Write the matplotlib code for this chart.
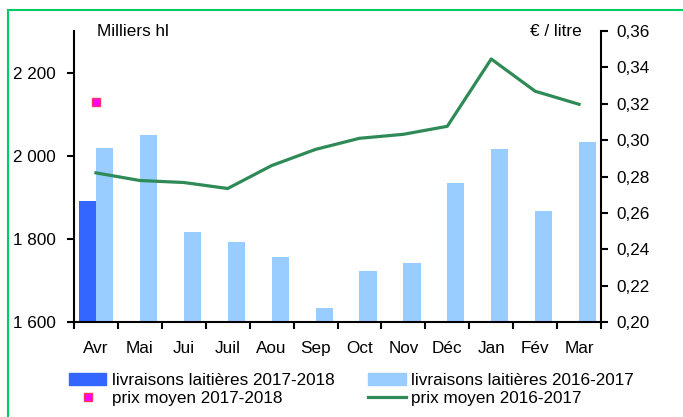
import numpy as np
import matplotlib
matplotlib.use('Agg')
import matplotlib.pyplot as plt
from matplotlib.patches import Patch, Rectangle
from matplotlib.lines import Line2D
from matplotlib.ticker import FuncFormatter

plt.rcParams['font.family'] = ['Liberation Sans', 'DejaVu Sans']
plt.rcParams['font.size'] = 12.3

mois = ['Avr', 'Mai', 'Jui', 'Juil', 'Aou', 'Sep', 'Oct', 'Nov', 'Déc', 'Jan', 'Fév', 'Mar']
livr_2017 = [1890]
livr_2016 = [2019, 2050, 1816, 1792, 1756, 1634, 1722, 1741, 1935, 2017, 1866, 2034]
prix_2017 = [0.3208]
prix_2016 = [0.282, 0.2778, 0.2767, 0.2734, 0.286, 0.2949, 0.301, 0.3032, 0.3076, 0.3446, 0.3269, 0.3197]

c_dark = '#3366ff'
c_light = '#99ccff'
c_line = '#2e8b57'

fig = plt.figure(figsize=(6.83, 4.17), dpi=100)
W, H = 683, 417
ax = fig.add_axes([74 / W, (H - 322) / H, (601 - 74) / W, (322 - 31) / H])

x = np.arange(len(mois))
bw = 0.39
ax.bar(x[:1] - bw / 2, livr_2017, width=bw, color=c_dark)
ax.bar(x + bw / 2, livr_2016, width=bw, color=c_light)
ax.set_ylim(1600, 2300)
ax.set_xlim(-0.5, 11.5)
ax.set_yticks([1600, 1800, 2000, 2200])
ax.yaxis.set_major_formatter(FuncFormatter(lambda v, p: '{:,.0f}'.format(v).replace(',', ' ')))
ax.set_xticks(np.arange(-0.5, 12, 1))
ax.set_xticklabels([])
ax.set_xticks(x, minor=True)
ax.set_xticklabels(mois, minor=True)
ax.tick_params(axis='x', which='minor', length=0, pad=14)
ax.tick_params(axis='x', which='major', length=5, width=1.5, direction='out')
ax.tick_params(axis='y', length=5, width=1.5, direction='out', pad=8)
ax.spines['top'].set_visible(False)
ax.spines['right'].set_visible(False)
ax.spines['left'].set_linewidth(1.5)
ax.spines['bottom'].set_linewidth(1.5)

ax2 = ax.twinx()
ax2.plot(x, prix_2016, color=c_line, lw=2.3)
ax2.plot(x[:1], prix_2017, 's', ms=6, mfc='#ff00ff', mec='#ff3366', mew=1)
ax2.set_ylim(0.20, 0.36)
ax2.set_yticks(np.arange(0.20, 0.361, 0.02))
ax2.yaxis.set_major_formatter(FuncFormatter(lambda v, p: '{:.2f}'.format(v).replace('.', ',')))
ax2.tick_params(axis='y', length=5, width=1.5, direction='out', pad=6)
for s in ['top', 'left', 'bottom']:
    ax2.spines[s].set_visible(False)
ax2.spines['right'].set_linewidth(1.5)

fig.text(97 / W, 1 - 32 / H, 'Milliers hl', va='center', ha='left')
fig.text(582 / W, 1 - 32 / H, '€ / litre', va='center', ha='right')

handles = [Patch(color=c_dark), Line2D([], [], ls='', marker='s', ms=6, mfc='#ff00ff', mec='#ff3366'),
           Patch(color=c_light), Line2D([], [], color=c_line, lw=2.3)]
labels = ['livraisons laitières 2017-2018', 'prix moyen 2017-2018',
          'livraisons laitières 2016-2017', 'prix moyen 2016-2017']
fig.legend(handles, labels, ncol=2, loc='upper left', bbox_to_anchor=(62 / W, 1 - 366 / H),
           frameon=False, handlelength=2.2, handletextpad=0.3, columnspacing=2.0,
           labelspacing=0.2, borderaxespad=0)

fig.patches.append(Rectangle((8 / W, -0.1), 1.2, 1 - 10 / H + 0.1, transform=fig.transFigure,
                             fill=False, edgecolor='#00cc66', lw=1.5))

fig.savefig('out.png', dpi=100)
